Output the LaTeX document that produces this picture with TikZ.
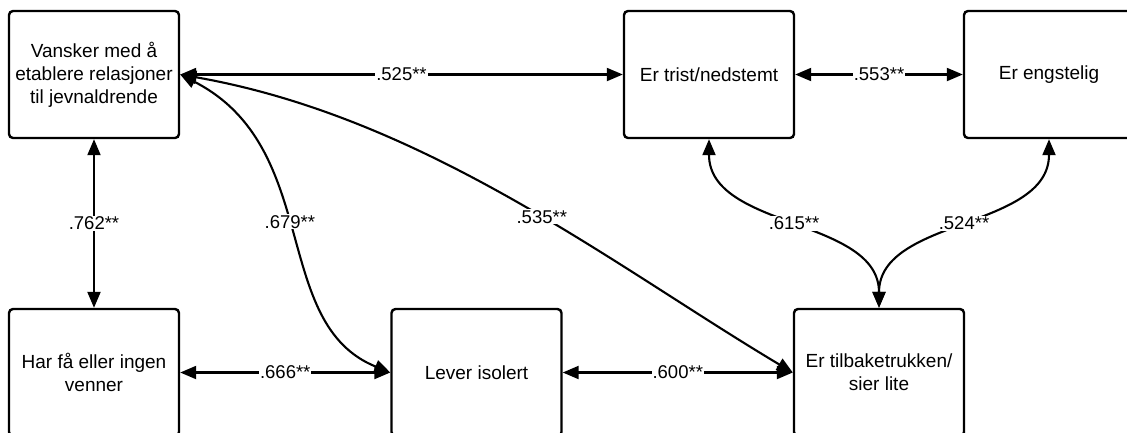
\documentclass[tikz,border=0pt]{standalone}
\usepackage{fontspec}
\setmainfont{Liberation Sans}
\usetikzlibrary{arrows.meta}
\begin{document}
\begin{tikzpicture}[x=1pt,y=-1pt,
  box/.style={draw, line width=2.4pt, rounded corners=4pt,
    minimum width=170pt, minimum height=127pt, inner sep=0pt,
    align=center, font=\fontsize{19}{23}\selectfont},
  tip/.tip={Triangle[length=16pt,width=13pt]},
  link/.style={line width=2.1pt, tip-tip},
  coef/.style={fill=white, inner sep=1pt, font=\fontsize{18.5}{20}\selectfont}]
\useasboundingbox (0,0) rectangle (1127,432);
\clip (0,0) rectangle (1127,432);

% variables
\node[box] (A) at (94,74.5)    {Vansker med å\\etablere relasjoner\\til jevnaldrende};
\node[box] (B) at (709,74.5)   {Er trist/nedstemt};
\node[box] (C) at (1049,74.5)  {Er engstelig};
\node[box] (D) at (94,372.5)   {Har få eller ingen\\venner};
\node[box] (E) at (476.5,372.5){Lever isolert};
\node[box] (F) at (879,372.5)  {Er tilbaketrukken/\\sier lite};

% correlations
\draw[link] (A.east) -- node[coef] {.525**} (B.west);
\draw[link] (B.east) -- node[coef] {.553**} (C.west);
\draw[link] (A.south) -- node[coef] {.762**} (D.north);
\draw[link] (D.east) -- node[coef] {.666**} (E.west);
\draw[link] (E.east) -- node[coef] {.600**} (F.west);
\draw[link] (A.east) .. controls +(143,73) and +(-121,-49) .. node[coef,pos=0.47] {.679**} (E.west);
\draw[link] (A.east) .. controls +(246,43) and +(-178,-106) .. node[coef,pos=0.55] {.535**} (F.west);
\draw[link] (B.south) .. controls +(0,90) and +(0,-90) .. node[coef,pos=0.5] {.615**} (F.north);
\draw[link] (C.south) .. controls +(0,90) and +(0,-90) .. node[coef,pos=0.5] {.524**} (F.north);
\end{tikzpicture}
\end{document}
